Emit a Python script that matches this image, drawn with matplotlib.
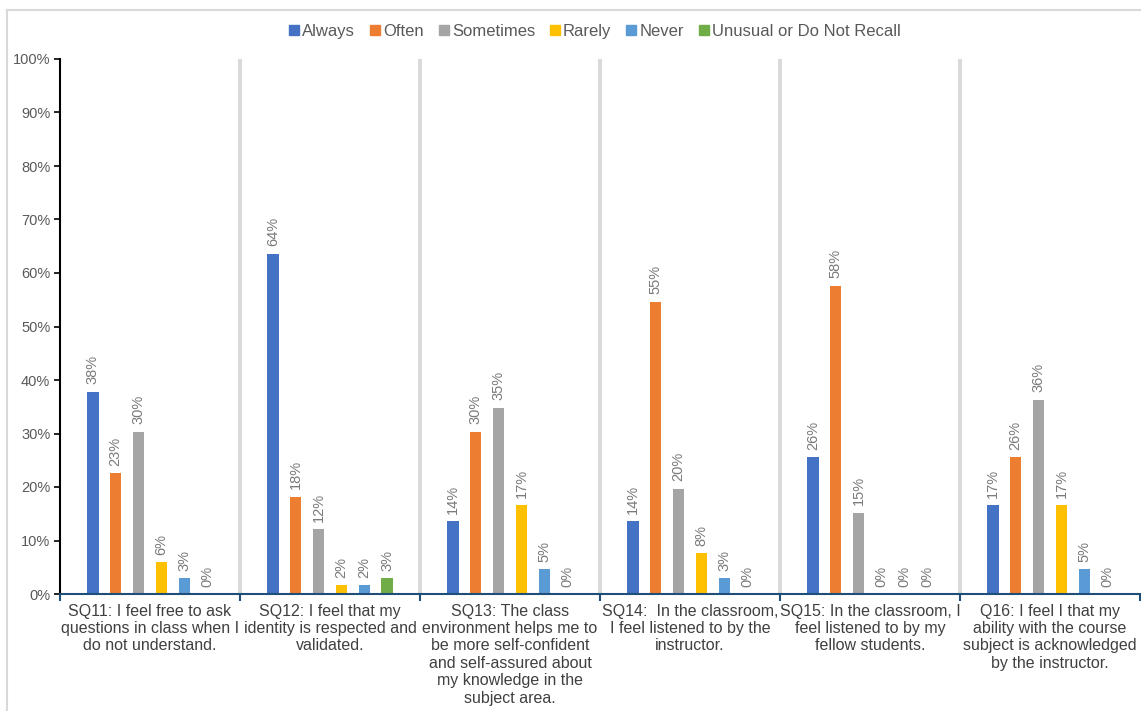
import matplotlib
matplotlib.use("Agg")
import matplotlib.pyplot as plt
from matplotlib.lines import Line2D
from matplotlib.patches import Rectangle
import numpy as np

plt.rcParams['font.family'] = ['Liberation Sans', 'DejaVu Sans']

# categories (x axis)
questions = [
    "SQ11: I feel free to ask\nquestions in class when I\ndo not understand.",
    "SQ12: I feel that my\nidentity is respected and\nvalidated.",
    "SQ13: The class\nenvironment helps me to\nbe more self-confident\nand self-assured about\nmy knowledge in the\nsubject area.",
    "SQ14:  In the classroom,\nI feel listened to by the\ninstructor.",
    "SQ15: In the classroom, I\nfeel listened to by my\nfellow students.",
    "Q16: I feel I that my\nability with the course\nsubject is acknowledged\nby the instructor.",
]

series_names = ["Always", "Often", "Sometimes", "Rarely", "Never",
                "Unusual or Do Not Recall"]
colors = ["#4472c4", "#ed7d31", "#a5a5a5", "#ffc000", "#5b9bd5", "#70ad47"]

# percent values per series, one per question
always    = [37.8, 63.6, 13.6, 13.6, 25.6, 16.6]
often     = [22.6, 18.2, 30.3, 54.6, 57.6, 25.6]
sometimes = [30.3, 12.1, 34.8, 19.7, 15.2, 36.3]
rarely    = [5.9, 1.6, 16.6, 7.6, 0.0, 16.6]
never     = [2.9, 1.6, 4.6, 2.9, 0.0, 4.6]
unusual   = [0.0, 2.9, 0.0, 0.0, 0.0, 0.0]
values = [always, often, sometimes, rarely, never, unusual]

W, H = 1141, 711
fig = plt.figure(figsize=(W / 100, H / 100), dpi=100)
ax = fig.add_axes([60/W, 1 - 594/H, 1080/W, (594 - 59)/H])

x = np.arange(len(questions))
step = 0.127
width = 0.064

for i, (name, vals, c) in enumerate(zip(series_names, values, colors)):
    pos = x + (i - 2.5) * step
    ax.bar(pos, vals, width=width, color=c, label=name, zorder=3)
    for p, v in zip(pos, vals):
        ax.text(p, v + 1.4, f"{int(round(v))}%", rotation=90, ha='center',
                va='bottom', fontsize=10.5, color='#7a7a7a', zorder=4)

# separators between categories
for b in np.arange(0.5, len(questions) - 0.5, 1.0):
    ax.axvline(b, color='#d9d9d9', lw=2.8, zorder=1)

ax.set_xlim(-0.5, len(questions) - 0.5)
ax.set_ylim(0, 100)
ax.set_yticks(np.arange(0, 101, 10))
ax.set_yticklabels([f"{t}%" for t in range(0, 101, 10)], fontsize=10.5,
                   color='#595959')
ax.tick_params(axis='y', length=4, width=1.2, color='black', pad=3)

ax.set_xticks(np.arange(-0.5, len(questions), 1.0))
ax.set_xticklabels([])
ax.tick_params(axis='x', direction='out', length=5, width=1.5,
               color='#1f4e79')
for xi, q in zip(x, questions):
    ax.text(xi, -1.8, q, ha='center', va='top', fontsize=11.5,
            color='#404040', linespacing=1.2)

for s in ['top', 'right']:
    ax.spines[s].set_visible(False)
ax.spines['left'].set_color('black')
ax.spines['left'].set_linewidth(1.5)
ax.spines['bottom'].set_color('#1f4e79')
ax.spines['bottom'].set_linewidth(1.5)
ax.spines['bottom'].set_zorder(5)

# legend drawn by hand so all labels share one baseline
renderer = fig.canvas.get_renderer()
sq, gap, colgap = 10, 3, 15
texts = []
widths = []
for name in series_names:
    t = fig.text(0, 0, name, fontsize=12, color='#595959',
                 va='center_baseline', ha='left')
    texts.append(t)
    widths.append(t.get_window_extent(renderer).width)
total = sum(sq + gap + w for w in widths) + colgap * (len(widths) - 1)
cx = 595 - total / 2
ly = H - 30
for t, w, c in zip(texts, widths, colors):
    fig.add_artist(Rectangle((cx / W, (ly - sq / 2) / H), sq / W, sq / H,
                             color=c, transform=fig.transFigure))
    t.set_position(((cx + sq + gap) / W, ly / H))
    cx += sq + gap + w + colgap

# outer chart border
fig.add_artist(Line2D([7/W, 7/W], [0, 1 - 10/H], color='#d9d9d9',
                      lw=1.5, transform=fig.transFigure))
fig.add_artist(Line2D([7/W, 1], [1 - 10/H, 1 - 10/H], color='#d9d9d9',
                      lw=1.5, transform=fig.transFigure))

fig.savefig("out.png", dpi=100)
